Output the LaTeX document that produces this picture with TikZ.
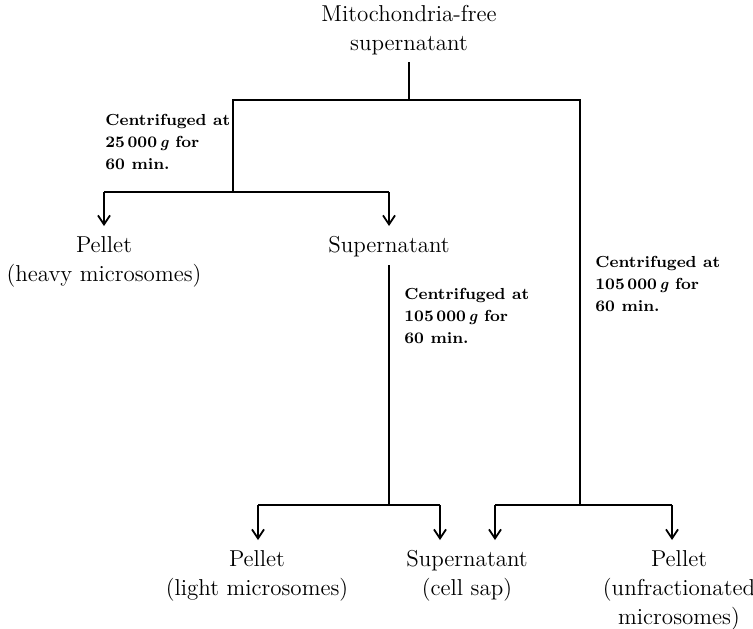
\documentclass[tikz,border=0pt]{standalone}
\usepackage{tikz}
\usetikzlibrary{arrows.meta,
                positioning}
\tikzset{
        sample/.style={align=center, inner sep=1pt,
        font=\fontsize{11.5}{14.5}\selectfont},
        spin/.style={align=left, inner sep=0pt, anchor=north west,
        font=\fontsize{8}{11}\selectfont\bfseries},
        flow/.style={line width=0.9pt},
        drop/.style={flow, -{Straight Barb[length=4.5pt,width=6pt]},
                     shorten >=4pt},
 }

\begin{document}
\begin{tikzpicture}[x=0.5pt, y=-0.5pt]
    \useasboundingbox (0,0) rectangle (753,628);

    % samples
    \node[sample, anchor=north] (start) at (409,3) {Mitochondria-free\\supernatant};
    \node[sample, anchor=north] (heavy) at (104,234) {Pellet\\(heavy microsomes)};
    \node[sample, anchor=north] (super) at (389,234) {Supernatant};
    \node[sample, anchor=north] (light) at (257,548) {Pellet\\(light microsomes)};
    \node[sample, anchor=north] (sap) at (467,548) {Supernatant\\(cell sap)};
    \node[sample, anchor=north] (unfrac) at (679,548) {Pellet\\(unfractionated\\microsomes)};

    % branch points
    \coordinate (fork0) at (409,100);
    \coordinate (left0) at (233,100);
    \coordinate (right0) at (580,100);
    \coordinate (left1) at (233,192);
    \coordinate (heavyarm) at (104,192);
    \coordinate (superarm) at (389,192);
    \coordinate (mid1) at (389,505);
    \coordinate (lightarm) at (258,505);
    \coordinate (sapleft) at (440,505);
    \coordinate (right1) at (580,505);
    \coordinate (sapright) at (495,505);
    \coordinate (unfracarm) at (672,505);

    % spinning conditions
    \node[spin] (spin1) at (105,114) {Centrifuged at\\25\,000\,\textit{g} for\\60 min.};
    \node[spin] (spin2) at (404,288) {Centrifuged at\\105\,000\,\textit{g} for\\60 min.};
    \node[spin] (spin3) at (595,256) {Centrifuged at\\105\,000\,\textit{g} for\\60 min.};

    \draw[flow, shorten <=2.5pt] (start.south) -- (fork0);
    \draw[flow] (left1) -- (left0) -- (right0) -- (right1);

    \draw[flow] (heavyarm) -- (superarm);
    \draw[drop] (heavyarm) -- (heavyarm |- heavy.north);
    \draw[drop] (superarm) -- (superarm |- super.north);

    \draw[flow, shorten <=3pt] (super.south) -- (mid1);
    \draw[flow] (lightarm) -- (sapleft);
    \draw[drop] (lightarm) -- (lightarm |- light.north);
    \draw[drop] (sapleft) -- (sapleft |- sap.north);

    \draw[flow] (sapright) -- (unfracarm);
    \draw[drop] (sapright) -- (sapright |- sap.north);
    \draw[drop] (unfracarm) -- (unfracarm |- unfrac.north);

\end{tikzpicture}
\end{document}
